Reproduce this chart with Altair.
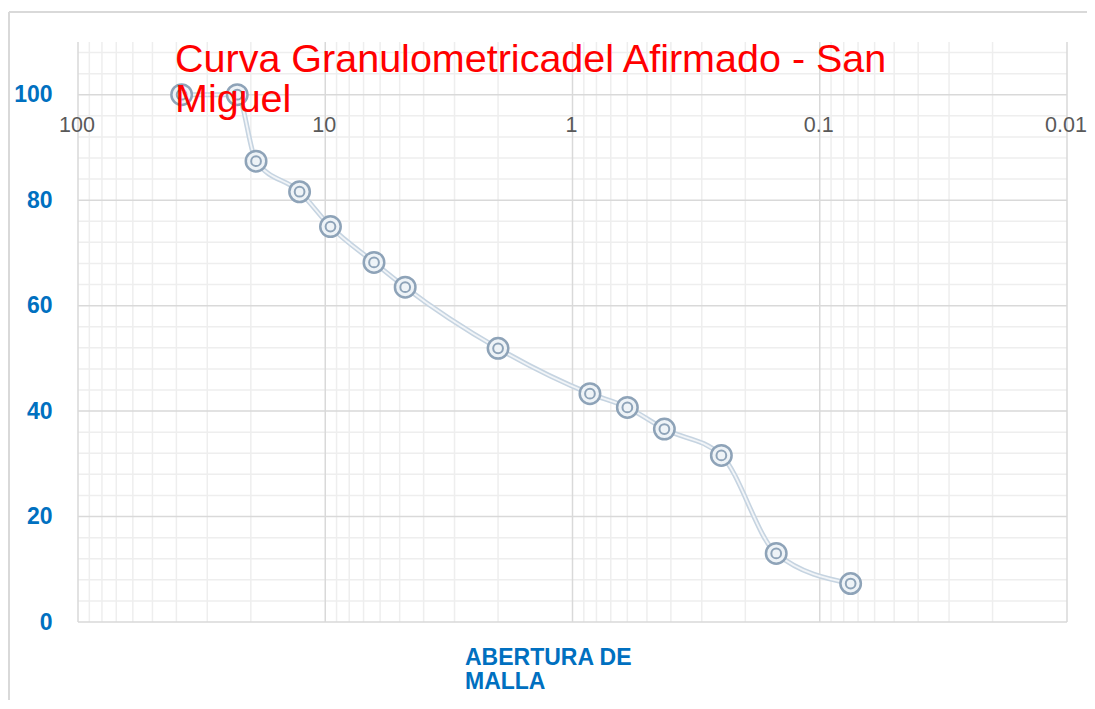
import altair as alt
import pandas as pd

# Data
abertura = [38.1, 22.7, 19.05, 12.7, 9.525, 6.35, 4.75, 2.0, 0.85, 0.6, 0.425, 0.25, 0.15, 0.075]
pasa = [100, 100, 87.4, 81.6, 75.0, 68.2, 63.5, 51.9, 43.3, 40.7, 36.6, 31.6, 13.0, 7.3]

x_major = [100, 10, 1, 0.1, 0.01]
x_labels = ["100", "10", "1", "0.1", "0.01"]
x_minor = [90, 80, 70, 60, 50, 40, 30, 20,
           9, 8, 7, 6, 5, 4, 3, 2,
           0.9, 0.8, 0.7, 0.6, 0.5, 0.4, 0.3, 0.2,
           0.09, 0.08, 0.07, 0.06, 0.05, 0.04, 0.03, 0.02]
y_major = [0, 20, 40, 60, 80, 100]
y_minor = [4, 8, 12, 16, 24, 28, 32, 36, 44, 48, 52, 56, 64, 68, 72, 76, 84, 88, 92, 96, 104, 108]

title_lines = ["Curva Granulometricadel Afirmado - San", "Miguel"]
x_title_lines = ["ABERTURA DE", "MALLA"]

W, H = 989, 580

df = pd.DataFrame({"abertura": abertura, "pasa": pasa})
one = pd.DataFrame({"k": [0]})

xscale = alt.Scale(type="log", domain=[0.01, 100], reverse=True, nice=False)
yscale = alt.Scale(domain=[0, 110], nice=False)

y_axis = alt.Axis(
    values=y_major, grid=False, domain=False, ticks=False, title=None,
    labelColor="#0070C0", labelFontSize=23, labelFont="Liberation Sans",
    labelFontWeight="bold", labelPadding=26,
)

X = lambda f: alt.X(f, scale=xscale, axis=None)
Y = lambda f: alt.Y(f, scale=yscale, axis=y_axis)

xminor = alt.Chart(pd.DataFrame({"v": x_minor})).mark_rule(
    color="#eeeeee", strokeWidth=1.5
).encode(x=X("v:Q"))

yminor = alt.Chart(pd.DataFrame({"v": y_minor})).mark_rule(
    color="#eeeeee", strokeWidth=1.5
).encode(y=Y("v:Q"))

xmajor = alt.Chart(pd.DataFrame({"v": x_major})).mark_rule(
    color="#d9d9d9", strokeWidth=1.5
).encode(x=X("v:Q"))

ymajor = alt.Chart(pd.DataFrame({"v": y_major})).mark_rule(
    color="#d9d9d9", strokeWidth=1.5
).encode(y=Y("v:Q"))

# x tick labels sit just under the 100 % line (Excel axis crossing at 100)
xlab = alt.Chart(pd.DataFrame({"v": x_major, "lab": x_labels})).mark_text(
    font="Liberation Sans", fontSize=21.5, color="#595959",
    align="center", baseline="middle", dy=31, dx=-1
).encode(x=X("v:Q"), y=alt.Y("pos:Q", scale=yscale, axis=y_axis), text="lab:N").transform_calculate(pos="100")

line_outer = alt.Chart(df).mark_line(
    color="#c6d4e1", strokeWidth=5, interpolate="monotone"
).encode(x=X("abertura:Q"), y=Y("pasa:Q"))

line_inner = alt.Chart(df).mark_line(
    color="#f2f5f8", strokeWidth=1.8, interpolate="monotone"
).encode(x=X("abertura:Q"), y=Y("pasa:Q"))

pts_outer = alt.Chart(df).mark_point(
    shape="circle", size=420, filled=False, stroke="#8ea3b8", strokeWidth=2.5,
    fill="#eef3f7", fillOpacity=1, opacity=1
).encode(x=X("abertura:Q"), y=Y("pasa:Q"))

pts_inner = alt.Chart(df).mark_point(
    shape="circle", size=95, filled=False, stroke="#8ea3b8", strokeWidth=2,
    opacity=1
).encode(x=X("abertura:Q"), y=Y("pasa:Q"))

title = alt.Chart(one).mark_text(
    text=title_lines, align="left", baseline="alphabetic",
    font="Liberation Sans", fontSize=39.5, color="#ff0000", lineHeight=40
).encode(x=alt.value(97), y=alt.value(30))

xtitle = alt.Chart(one).mark_text(
    text=x_title_lines, align="left", baseline="alphabetic",
    font="Liberation Sans", fontSize=23, fontWeight="bold", color="#0070C0",
    lineHeight=24
).encode(x=alt.value(387), y=alt.value(623))

frame_left = alt.Chart(one).mark_rule(color="#d9d9d9", strokeWidth=2).encode(
    x=alt.value(-69), y=alt.value(-30), y2=alt.value(700)
)
frame_top = alt.Chart(one).mark_rule(color="#d9d9d9", strokeWidth=2).encode(
    x=alt.value(-69), x2=alt.value(1100), y=alt.value(-30)
)

chart = alt.layer(
    frame_left, frame_top,
    xminor, yminor, xmajor, ymajor,
    line_outer, line_inner, pts_outer, pts_inner,
    xlab, title, xtitle,
).properties(
    width=W, height=H,
    autosize=alt.AutoSizeParams(type="none"),
    padding={"left": 70, "top": 34, "right": 20, "bottom": 78},
    background="white",
).configure_view(stroke=None)

chart.save("out.html", embed_options={"renderer": "svg", "actions": False})
